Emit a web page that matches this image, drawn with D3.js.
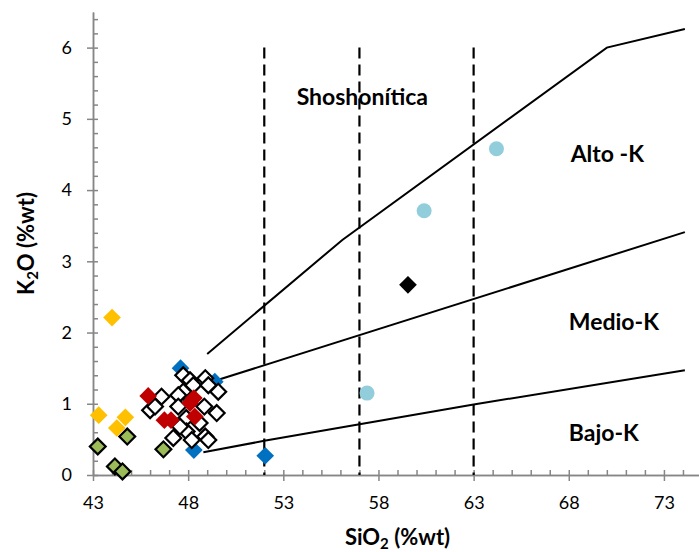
<!DOCTYPE html>
<html>
<head>
<meta charset="utf-8">
<script src="https://cdn.jsdelivr.net/npm/d3@7"></script>
<style>
body { margin: 0; background: #fff; }
svg { display: block; font-family: Lato, "Open Sans", sans-serif; }
</style>
</head>
<body>
<div id="chart"></div>
<script>
// SiO2 vs K2O, pairs are [SiO2, K2O]
const xTicks = [43, 48, 53, 58, 63, 68, 73]
const yTicks = [0, 1, 2, 3, 4, 5, 6]

const blueDiamonds = [[47.6, 1.5], [49.4, 1.31], [48.3, 0.35], [52.05, 0.27]]
const greenDiamonds = [[43.25, 0.40], [44.15, 0.12], [44.55, 0.05], [44.8, 0.54], [46.7, 0.36]]
const yellowDiamonds = [[44.0, 2.21], [43.3, 0.84], [44.25, 0.66], [44.7, 0.81]]
const whiteDiamonds = [
    [47.74, 1.40], [48.1, 1.33], [48.27, 1.26], [48.9, 1.36], [49.06, 1.26], [49.58, 1.17],
    [47.74, 1.17], [46.6, 1.10], [46.0, 0.91], [46.26, 0.96], [47.48, 1.12], [47.48, 0.96],
    [47.9, 0.80], [49.5, 0.87], [48.85, 0.96], [47.22, 0.52], [47.92, 0.61], [48.19, 0.49],
    [48.9, 0.54], [49.06, 0.49], [47.57, 0.68], [48.6, 0.73]
]
const redDiamonds = [[45.9, 1.11], [46.75, 0.77], [47.1, 0.77], [48.1, 1.01], [48.3, 1.08], [48.35, 0.82]]
const blackDiamonds = [[59.55, 2.67]]
const cyanCircles = [[57.4, 1.15], [60.4, 3.71], [64.2, 4.58]]

// field boundaries
const shoLine = [[49, 1.70], [56.1, 3.30], [70, 6.0], [74.1, 6.26]]
const highKLine = [[49.5, 1.33], [74.1, 3.41]]
const lowKLine = [[48.8, 0.32], [52, 0.48], [63, 0.99], [74.1, 1.47]]
const dashedSi = [52, 57, 63]

const fieldLabels = [
    {text: "Shoshonítica", si: 53.7, k: 5.2},
    {text: "Alto -K", si: 68.1, k: 4.4},
    {text: "Medio-K", si: 68.0, k: 2.03},
    {text: "Bajo-K", si: 68.0, k: 0.48}
]

const svgWidth = 699
const svgHeight = 552

const margin = {top: 12, left: 93, bottom: 77, right: -3}

const svg = d3.select("#chart").append("svg")
    .attr("width", svgWidth)
    .attr("height", svgHeight)

const x = d3.scaleLinear()
    .domain([43, 75])
    .range([margin.left, svgWidth - margin.right])

const y = d3.scaleLinear()
    .domain([0, 6.5])
    .range([svgHeight - margin.bottom, margin.top])

const axisColor = "#868686"

// minor ticks inside, major outside
svg.append("g")
    .attr("transform", `translate(0, ${y(0)})`)
    .call(d3.axisTop(x).tickValues(d3.range(43, 76)).tickSize(5).tickSizeOuter(0).tickFormat(""))
svg.append("g")
    .attr("transform", `translate(0, ${y(0)})`)
    .call(d3.axisBottom(x).tickValues(xTicks).tickSize(6).tickSizeOuter(0).tickPadding(15).tickFormat(d => d))

svg.append("g")
    .attr("transform", `translate(${x(43)}, 0)`)
    .call(d3.axisRight(y).tickValues(d3.range(0, 6.5, 0.2)).tickSize(5).tickSizeOuter(0).tickFormat(""))
svg.append("g")
    .attr("transform", `translate(${x(43)}, 0)`)
    .call(d3.axisLeft(y).tickValues(yTicks).tickSize(6).tickSizeOuter(0).tickPadding(15).tickFormat(d => d))

svg.selectAll(".domain, .tick line")
    .attr("stroke", axisColor)
    .attr("stroke-width", 1.5)

svg.selectAll(".tick text")
    .attr("fill", "#000")
    .style("font-size", "18px")
    .style("font-family", "Lato, sans-serif")

// dashed verticals
svg.append("g").selectAll("line")
    .data(dashedSi)
    .enter()
    .append("line")
    .attr("x1", d => x(d))
    .attr("x2", d => x(d))
    .attr("y1", y(6))
    .attr("y2", y(0))
    .attr("stroke", "#000")
    .attr("stroke-width", 2.2)
    .attr("stroke-dasharray", "11,6")

const line = d3.line()
    .x(d => x(d[0]))
    .y(d => y(d[1]))

svg.append("g").selectAll("path")
    .data([shoLine, highKLine, lowKLine])
    .enter()
    .append("path")
    .attr("d", line)
    .attr("fill", "none")
    .attr("stroke", "#000")
    .attr("stroke-width", 2)

// points
const diamond = (side) => d3.symbol().type(d3.symbolSquare).size(side * side)

const drawDiamonds = (data, fill, stroke, side) => {
    svg.append("g").selectAll("path")
        .data(data)
        .enter()
        .append("path")
        .attr("d", diamond(side))
        .attr("transform", d => `translate(${x(d[0])}, ${y(d[1])}) rotate(45)`)
        .attr("fill", fill)
        .attr("stroke", stroke)
        .attr("stroke-width", stroke === "none" ? 0 : 2.2)
}

drawDiamonds(blueDiamonds, "#0070C0", "none", 12.5)
drawDiamonds(greenDiamonds, "#9BBB59", "#000", 11.2)
drawDiamonds(yellowDiamonds, "#FFC000", "none", 12.5)
drawDiamonds(whiteDiamonds, "#fff", "#000", 11.2)
drawDiamonds(redDiamonds, "#C00000", "none", 12.5)
drawDiamonds(blackDiamonds, "#000", "none", 12.5)

svg.append("g").selectAll("circle")
    .data(cyanCircles)
    .enter()
    .append("circle")
    .attr("cx", d => x(d[0]))
    .attr("cy", d => y(d[1]))
    .attr("r", 7.5)
    .attr("fill", "#92CDDC")

// field labels
svg.append("g").selectAll("text")
    .data(fieldLabels)
    .enter()
    .append("text")
    .attr("x", d => x(d.si))
    .attr("y", d => y(d.k))
    .attr("font-size", 23)
    .attr("font-weight", "bold")
    .text(d => d.text)

// axis titles
const xTitle = svg.append("text")
    .attr("x", (x(43) + x(75)) / 2)
    .attr("y", 545)
    .attr("text-anchor", "middle")
    .attr("font-size", 22)
    .attr("font-weight", "bold")
xTitle.append("tspan").text("SiO")
xTitle.append("tspan").attr("font-size", 15).attr("dy", 4).text("2")
xTitle.append("tspan").attr("dy", -4).text(" (%wt)")

const yTitle = svg.append("text")
    .attr("transform", `translate(34, ${(y(0) + y(6.5)) / 2}) rotate(-90)`)
    .attr("text-anchor", "middle")
    .attr("font-size", 22)
    .attr("font-weight", "bold")
yTitle.append("tspan").text("K")
yTitle.append("tspan").attr("font-size", 15).attr("dy", 4).text("2")
yTitle.append("tspan").attr("dy", -4).text("O (%wt)")
</script>
</body>
</html>
